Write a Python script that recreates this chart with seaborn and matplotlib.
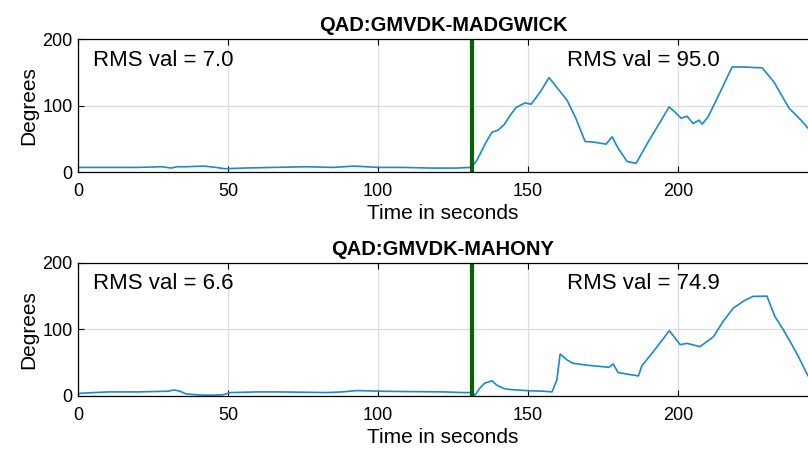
import numpy as np
import pandas as pd
import matplotlib
matplotlib.use("Agg")
import matplotlib.pyplot as plt
import seaborn as sns

# data (time in s, angle error in degrees)
t_madgwick = [0, 10, 20, 28, 31, 33, 36, 42, 46, 49, 55, 65, 76, 85, 92, 100, 108, 118, 126, 131,
              133, 136, 138, 140, 142, 144, 146, 149, 151, 154, 157, 160, 163, 166, 169, 172, 176,
              178, 180, 183, 186, 190, 194, 197, 199, 201, 203, 205, 207, 208, 210, 214, 218, 222,
              226, 228, 232, 237, 241, 243.3]
v_madgwick = [7, 7, 7, 8, 6, 8, 8, 9, 7, 5, 6, 7, 8, 7, 9, 7, 7, 6, 6, 7,
              18, 45, 60, 63, 71, 85, 97, 104, 102, 120, 142, 125, 108, 80, 46, 45, 42,
              53, 36, 16, 13, 45, 75, 98, 90, 81, 84, 73, 78, 72, 83, 120, 158, 158,
              157, 157, 135, 96, 78, 66]

t_mahony = [0, 1, 10, 20, 30, 32, 34, 36, 40, 44, 48, 51, 60, 67, 75, 83, 88, 93, 101, 110, 122,
            128, 131, 132.3, 134, 135.5, 138, 139.6, 142, 144, 150, 155, 158, 159.6, 160.7, 163,
            165, 170, 177, 178.4, 180, 186.8, 187.9, 192, 197.1, 200.7, 203, 207.3, 211.8, 215,
            218.4, 222, 225, 229.6, 232.3, 235, 237.3, 240, 243.3]
v_mahony = [3, 4, 6, 6, 7, 9, 7, 3, 1.5, 1, 1.5, 5, 6, 6, 5.5, 5, 6, 8, 7, 6.5, 6,
            5, 5, 1, 12, 19, 22.7, 16, 11, 9.6, 7.8, 7, 6, 24, 63, 54,
            49, 46, 43, 48, 35, 30, 45, 68, 98, 77, 79, 74, 89, 112,
            132, 143, 149.6, 150, 119, 100, 82, 60, 30]

titles = ["QAD:GMVDK-MADGWICK", "QAD:GMVDK-MAHONY"]
rms_before = ["RMS val = 7.0", "RMS val = 6.6"]
rms_after = ["RMS val = 95.0", "RMS val = 74.9"]
t_switch = 131.4

sns.set_style("ticks")
plt.rcParams["font.family"] = ["Liberation Sans", "DejaVu Sans"]
plt.rcParams["text.color"] = "black"
plt.rcParams["axes.labelcolor"] = "black"

fig = plt.figure(figsize=(8.08, 4.54), dpi=100)
ax1 = fig.add_axes([0.0965, 0.621, 0.9035, 0.293])
ax2 = fig.add_axes([0.0965, 0.128, 0.9035, 0.293])

series = [(t_madgwick, v_madgwick), (t_mahony, v_mahony)]
for i, ax in enumerate([ax1, ax2]):
    df = pd.DataFrame({"t": series[i][0], "deg": series[i][1]})
    sns.lineplot(data=df, x="t", y="deg", ax=ax, color="#1a8bc8", lw=1.2,
                 sort=False, estimator=None)
    ax.axvline(t_switch, color="#056405", lw=3)
    ax.set_xlim(0, 243.3)
    ax.set_ylim(0, 200)
    ax.set_xticks([0, 50, 100, 150, 200])
    ax.set_yticks([0, 100, 200])
    ax.grid(True, color="#dcdcdc", lw=0.9)
    ax.set_axisbelow(True)
    ax.tick_params(direction="in", top=True, labelsize=13, length=4, width=0.8,
                   colors="black")
    ax.tick_params(axis="x", pad=8)
    ax.tick_params(axis="y", pad=4)
    for s in ["left", "top", "bottom"]:
        ax.spines[s].set_color("black")
        ax.spines[s].set_linewidth(0.9)
    ax.spines["right"].set_visible(False)
    ax.set_title(titles[i], fontsize=14.5, fontweight="bold", pad=6, color="black")
    ax.set_xlabel("Time in seconds", fontsize=15, labelpad=3)
    ax.set_ylabel("Degrees", fontsize=15, labelpad=3)
    ax.text(5, 160, rms_before[i], fontsize=16, va="baseline")
    ax.text(163, 160, rms_after[i], fontsize=16, va="baseline")

fig.savefig("out.png", dpi=100)
